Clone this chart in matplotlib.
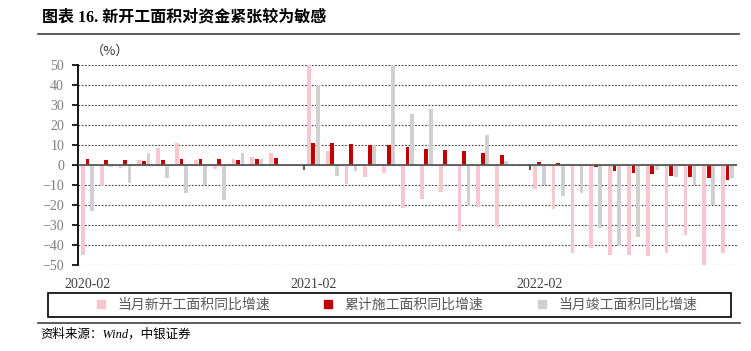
import numpy as np
import matplotlib
matplotlib.use("Agg")
import matplotlib.pyplot as plt
from matplotlib.lines import Line2D
from matplotlib.patches import Rectangle

plt.rcParams['font.family'] = ['Liberation Serif', 'Noto Sans CJK SC', 'DejaVu Sans']

# months 2020-02 .. 2022-12 (January has no data)
months = [f"{y}-{m:02d}" for y in (2020, 2021, 2022) for m in range(1, 13)][1:]
nan = np.nan

new_start = [-44.8, -10.5, -1.5, 2.3, 8.5, 11.2, 2.3, -2.0, 3.2, 4.0, 6.2,
             nan, 50.0, 6.8, -9.3, -6.0, -3.8, -21.5, -16.8, -13.5, -33.0, -21.0, -31.0,
             nan, -12.2, -22.2, -44.0, -41.5, -45.0, -45.2, -45.5, -44.2, -35.0, -50.5, -44.2]
under_constr = [2.8, 2.3, 2.3, 2.2, 2.3, 2.8, 3.2, 2.8, 2.7, 2.8, 3.5,
                nan, 10.8, 11.2, 10.3, 9.8, 9.8, 8.8, 8.0, 7.7, 6.8, 6.0, 5.0,
                nan, 1.5, 0.8, 0.0, -1.0, -3.0, -3.8, -4.7, -5.5, -5.8, -6.7, -7.3]
completed = [-23.0, -1.0, -9.0, 6.0, -6.5, -14.0, -9.8, -17.7, 5.8, 2.8, 0.0,
             nan, 39.8, -5.5, -3.2, 9.8, 50.0, 25.3, 28.2, 0.7, -20.3, 15.2, 1.8,
             nan, -9.8, -15.5, -14.2, -31.3, -40.7, -36.0, -2.7, -6.0, -9.8, -20.2, -6.5]

labels = ['当月新开工面积同比增速', '累计施工面积同比增速', '当月竣工面积同比增速']
colors = ['#F8C6CF', '#C00000', '#D0D0D0']
series = [new_start, under_constr, completed]

fig = plt.figure(figsize=(7.51, 3.51), dpi=100)
ax = fig.add_axes([78 / 751, 1 - 265 / 351, (737 - 78) / 751, 200 / 351])

x = np.arange(len(months))
w = 0.2
for k, (vals, c) in enumerate(zip(series, colors)):
    ax.bar(x + (k - 1) * 0.24, vals, width=w, color=c, zorder=3)

ax.set_ylim(-50, 50)
ax.set_xlim(-0.5, len(months) - 0.5)
ax.set_yticks(np.arange(-50, 51, 10))
ax.yaxis.grid(True, linestyle=(0, (1.5, 1.5)), color='#404040', linewidth=0.8, zorder=0)
ax.axhline(0, color='#595959', linewidth=1.3, zorder=4)

# year boundary marks below the zero line
bounds = [i - 0.5 for i, m in enumerate(months) if m.endswith('-02') and i > 0]
ax.vlines(bounds, -2.5, 0, color='#404040', linewidth=1.2, zorder=4)

lab_idx = [i for i, m in enumerate(months) if m.endswith('-02')]
ax.set_xticks(lab_idx)
ax.set_xticklabels([months[i] for i in lab_idx])
ax.tick_params(axis='x', length=0, pad=9, labelsize=10, labelcolor='#404040')
ax.tick_params(axis='y', length=4, width=1.2, pad=6, labelsize=10, labelcolor='#7F7F7F')
for s in ['top', 'right', 'bottom']:
    ax.spines[s].set_visible(False)
ax.spines['left'].set_linewidth(1.3)

# title and rules
fig.text(42 / 751, 1 - 17 / 351, '图表 16. 新开工面积对资金紧张较为敏感', fontsize=11.5,
         fontweight='bold', va='center', ha='left')
fig.add_artist(Line2D([38 / 751, 739 / 751], [1 - 34 / 351] * 2, color='#404040', lw=1.2))
fig.text(110 / 751, 1 - 51 / 351, '（%）', fontsize=9.5, va='center', ha='center',
         family=['Noto Sans CJK SC', 'DejaVu Sans'], color='#333333')

# legend with its box
fig.add_artist(Rectangle((48 / 751, 1 - 317 / 351), (731 - 48) / 751, 24 / 351,
                         transform=fig.transFigure, fill=False, edgecolor='black', lw=1.2))
handles = [Line2D([], [], marker='s', linestyle='none', markersize=5.5, color=c) for c in colors]
fig.legend(handles, labels, loc='center', bbox_to_anchor=(392 / 751, 1 - 305 / 351),
           ncol=3, frameon=False, handletextpad=0.2, columnspacing=3.2,
           prop={'family': ['Noto Sans CJK SC'], 'size': 10}, labelcolor='#595959')

fig.add_artist(Line2D([38 / 751, 740 / 751], [1 - 323 / 351] * 2, color='#404040', lw=1.2))
fig.text(40 / 751, 1 - 334 / 351, '资料来源：Wind，中银证券', fontsize=9, va='center',
         ha='left', style='italic', family=['Liberation Serif', 'Noto Sans CJK SC'])

fig.savefig('out.png', dpi=100)
